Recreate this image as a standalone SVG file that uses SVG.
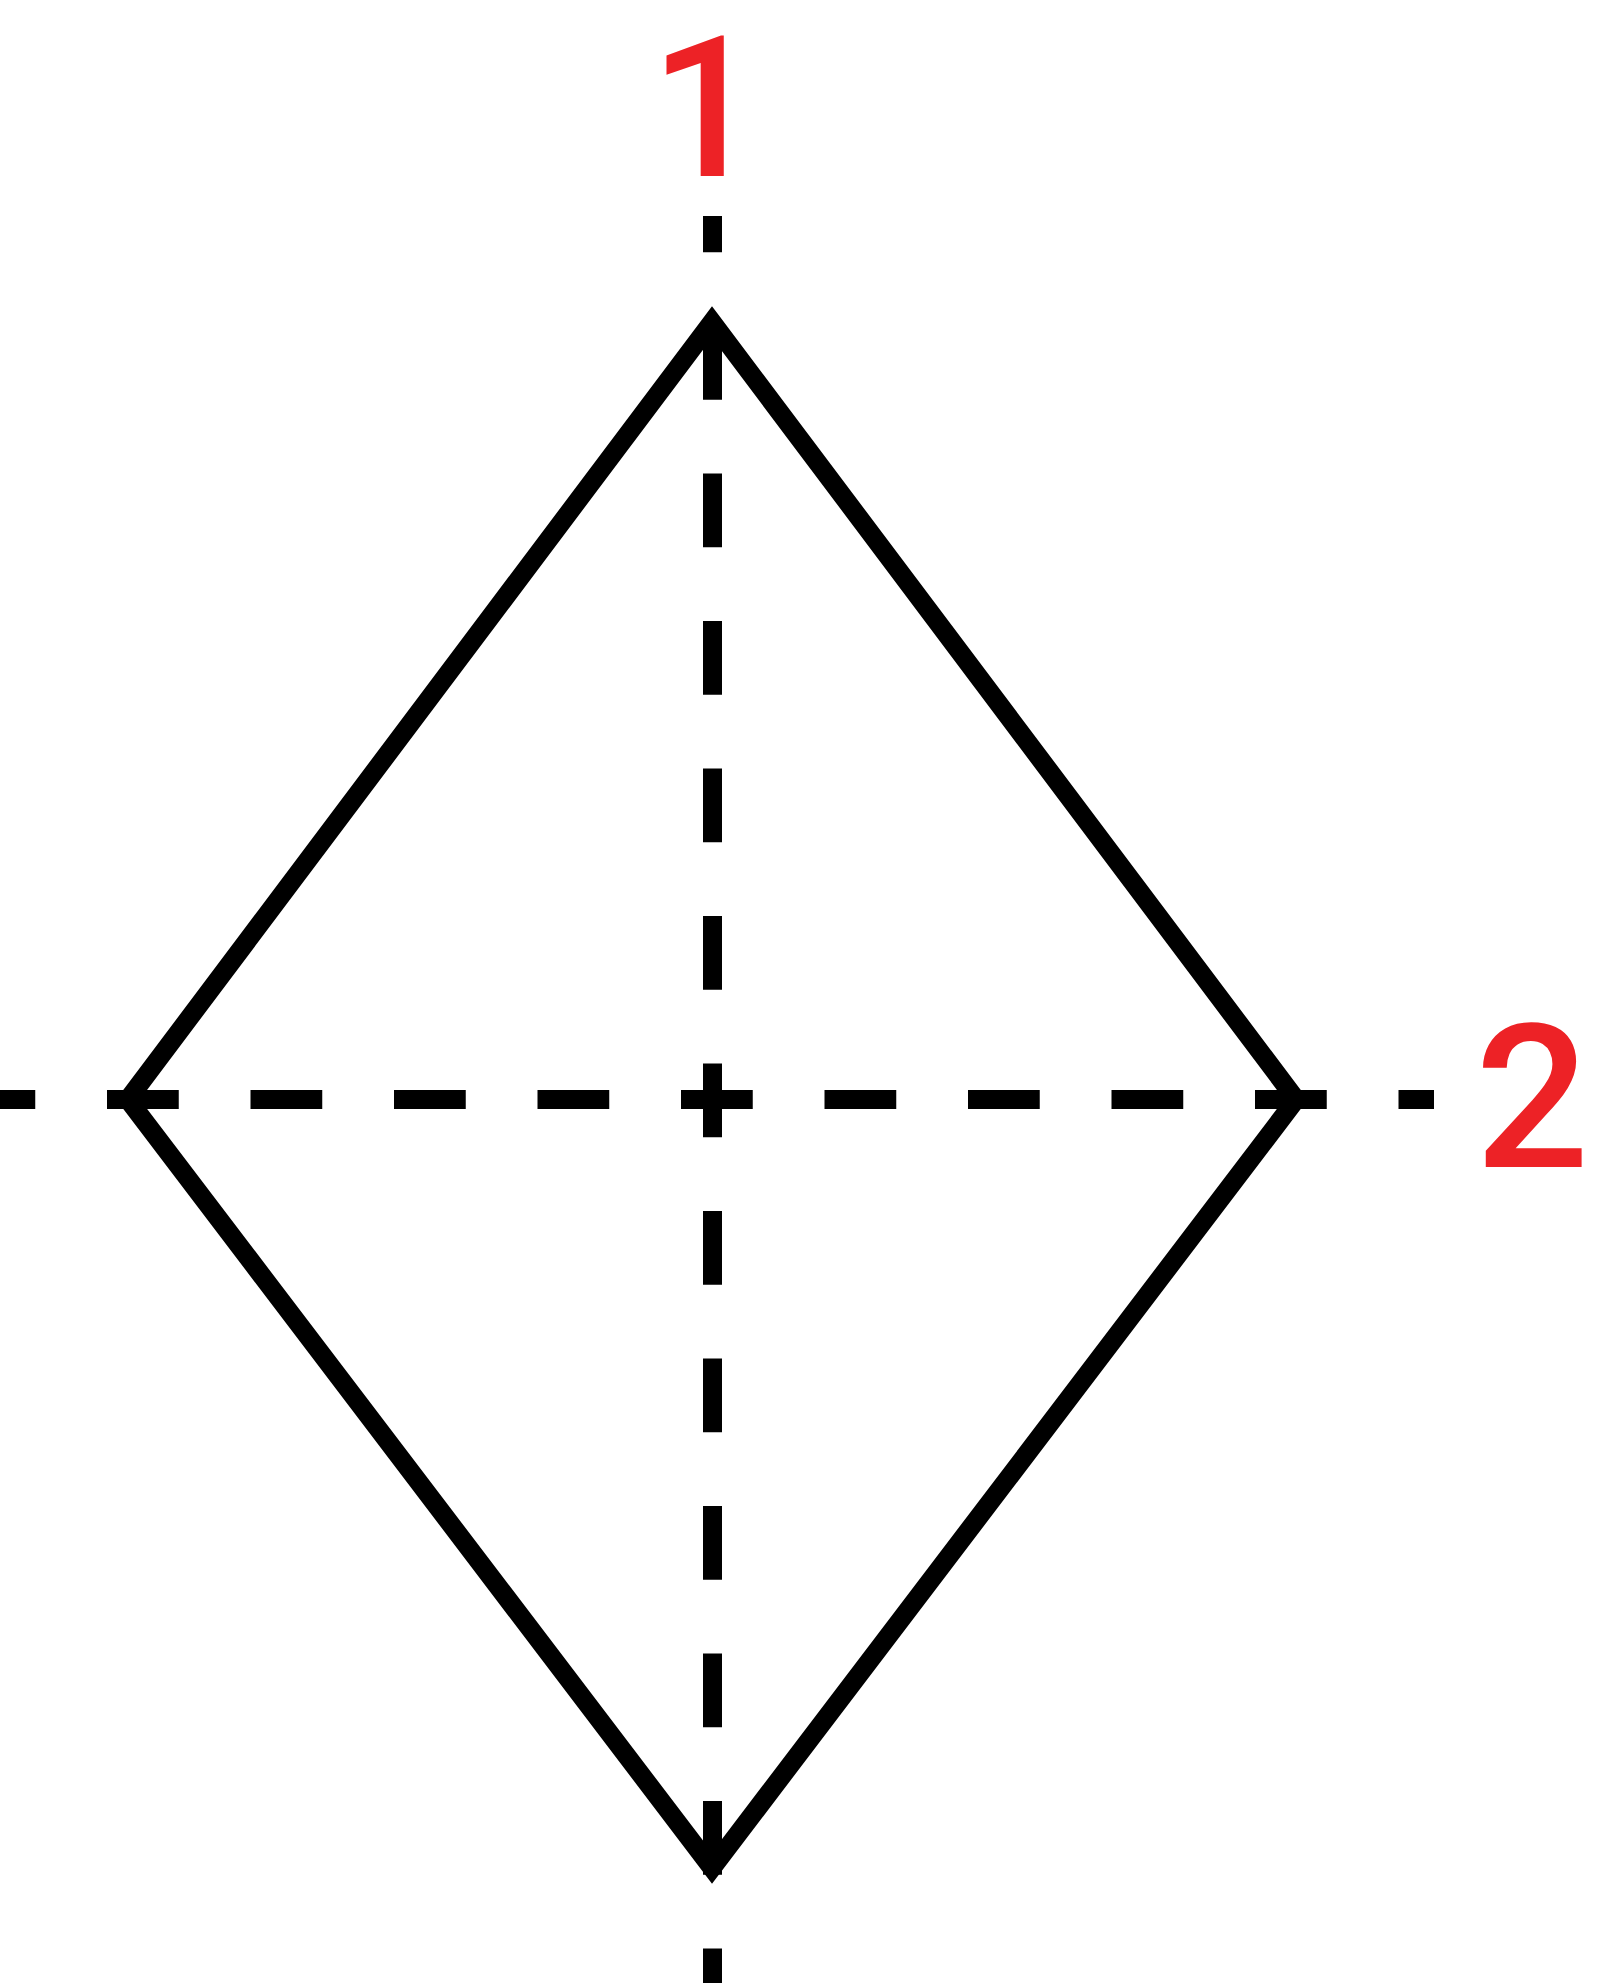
<svg xmlns="http://www.w3.org/2000/svg" width="1600" height="1983" viewBox="0 0 1600 1983">
  <style>
    .axis { stroke: #000; stroke-width: 19; fill: none; }
    .edge { stroke: #000; stroke-width: 19; fill: none; stroke-linejoin: miter; stroke-miterlimit: 10; }
    .label { fill: #ed2226; font-family: Roboto, "Liberation Sans", sans-serif; font-weight: 500; }
  </style>
  <rect x="0" y="0" width="1600" height="1983" fill="#ffffff"/>
  <g id="connectors">
    <line id="axis-1" class="axis" x1="712.5" y1="216" x2="712.5" y2="1983" stroke-dasharray="73.75 73.75" stroke-dashoffset="37.5"/>
    <line id="axis-2" class="axis" x1="-36.5" y1="1099.5" x2="1434" y2="1099.5" stroke-dasharray="71.75 71.75"/>
  </g>
  <g id="diamond">
    <polygon class="edge" points="712,322 1296,1099.5 712,1868 128,1099.5"/>
  </g>
  <g id="label-1">
    <text class="label" x="706" y="176" font-size="196" text-anchor="middle">1</text>
  </g>
  <g id="label-2">
    <text class="label" x="1532" y="1167" font-size="201" text-anchor="middle">2</text>
  </g>
</svg>
